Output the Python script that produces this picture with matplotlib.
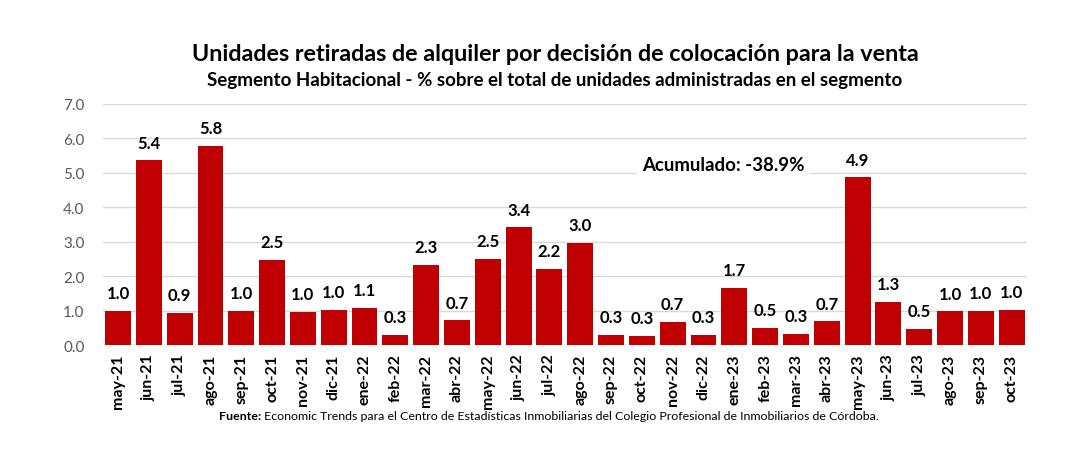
# -*- coding:utf-8 -*-
import numpy as np
import matplotlib
matplotlib.use('Agg')
import matplotlib.pyplot as plt

plt.rcParams['font.family'] = ['Lato', 'DejaVu Sans']
plt.rcParams['axes.unicode_minus'] = False

######################################## data ########################################
meses = ['may-21', 'jun-21', 'jul-21', 'ago-21', 'sep-21', 'oct-21', 'nov-21', 'dic-21',
         'ene-22', 'feb-22', 'mar-22', 'abr-22', 'may-22', 'jun-22', 'jul-22', 'ago-22',
         'sep-22', 'oct-22', 'nov-22', 'dic-22', 'ene-23', 'feb-23', 'mar-23', 'abr-23',
         'may-23', 'jun-23', 'jul-23', 'ago-23', 'sep-23', 'oct-23']
valores = [1.00, 5.36, 0.93, 5.78, 1.00, 2.47, 0.97, 1.03,
           1.08, 0.30, 2.32, 0.72, 2.51, 3.42, 2.22, 2.96,
           0.30, 0.26, 0.67, 0.30, 1.67, 0.50, 0.32, 0.69,
           4.87, 1.26, 0.48, 0.98, 0.99, 1.03]
acumulado = '-38.9%'

titulo = 'Unidades retiradas de alquiler por decisión de colocación para la venta'
subtitulo = 'Segmento Habitacional - % sobre el total de unidades administradas en el segmento'
fuente = 'Economic Trends para el Centro de Estadísticas Inmobiliarias del Colegio Profesional de Inmobiliarios de Córdoba.'

######################################## plot ########################################
fig = plt.figure(figsize=(10.8, 4.64), dpi=100)
ax = fig.add_axes([0.095, 0.254, 0.856, 0.52])

x = np.arange(len(meses))
bars = ax.bar(x, valores, width=0.84, color='#C00000', zorder=3)

for rect, v in zip(bars, valores):
    ax.annotate('{:.1f}'.format(v), (rect.get_x() + rect.get_width() / 2, rect.get_height()),
                xytext=(0, 7), textcoords='offset points', ha='center', va='bottom',
                fontsize=12, fontweight='bold', color='black')

ax.set_xlim(-0.5, len(meses) - 0.5)
ax.set_ylim(0, 7)
ax.set_yticks(np.arange(0, 7.01, 1.0))
ax.set_yticklabels(['{:.1f}'.format(t) for t in np.arange(0, 7.01, 1.0)], fontsize=11, color='#595959')
ax.set_xticks(x)
ax.set_xticklabels(meses, rotation=90, fontsize=11.5, fontweight='bold')
ax.tick_params(axis='both', length=0)
ax.tick_params(axis='y', pad=13)
ax.tick_params(axis='x', pad=6)
ax.grid(axis='y', color='#D9D9D9', linewidth=1, zorder=0)
for s in ax.spines.values():
    s.set_visible(False)

ax.text(19.65, 5.25, 'Acumulado: ' + acumulado, ha='center', va='center', fontsize=13.4,
        fontweight='bold', bbox=dict(facecolor='white', edgecolor='none', pad=4), zorder=4)

fig.text(0.514, 0.882, titulo, ha='center', va='center', fontsize=16.8, fontweight='bold')
fig.text(0.514, 0.826, subtitulo, ha='center', va='center', fontsize=13.5, fontweight='bold')

t1 = fig.text(0.203, 0.103, 'Fuente:', ha='left', va='center', fontsize=8.9, fontweight='bold')
ax.annotate(' ' + fuente, xy=(1, 0.5), xycoords=t1, ha='left', va='center', fontsize=8.9,
            annotation_clip=False)

fig.savefig('out.png', dpi=100, facecolor='white')
